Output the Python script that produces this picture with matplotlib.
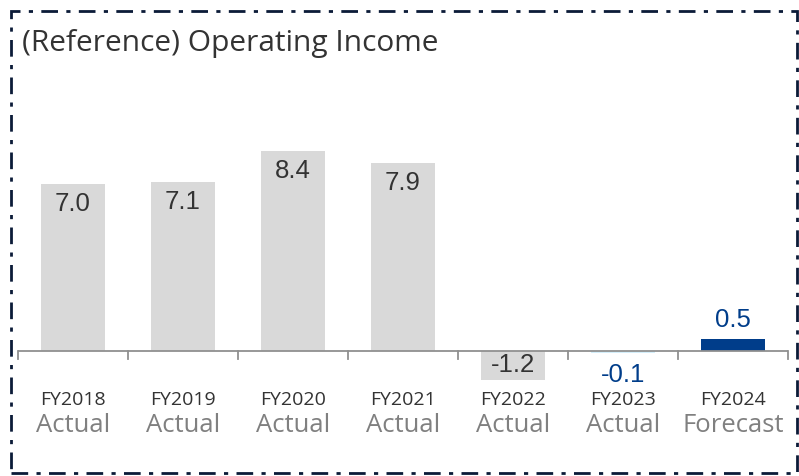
import matplotlib
matplotlib.use('Agg')
import matplotlib.pyplot as plt
from matplotlib.patches import Rectangle
from matplotlib.transforms import blended_transform_factory

# data
years = ['FY2018', 'FY2019', 'FY2020', 'FY2021', 'FY2022', 'FY2023', 'FY2024']
kinds = ['Actual', 'Actual', 'Actual', 'Actual', 'Actual', 'Actual', 'Forecast']
income = [7.0, 7.1, 8.4, 7.9, -1.2, -0.1, 0.5]
labels = ['7.0', '7.1', '8.4', '7.9', '-1.2', '-0.1', '0.5']

gray = '#d9d9d9'
blue = '#003d8a'
light_blue = '#d4eefa'
bar_colors = [gray, gray, gray, gray, gray, light_blue, blue]

fig = plt.figure(figsize=(7.99, 4.76), dpi=100)

# frame around the whole chart (dash-dot)
fig.patches.append(Rectangle((11 / 799, 3 / 476), 786 / 799, 462 / 476,
                             transform=fig.transFigure, fill=False,
                             edgecolor='#0b1b38', linewidth=2,
                             linestyle=(0, (6, 3, 1.5, 3))))

fig.text(22 / 799, 1 - 44 / 476, '(Reference) Operating Income',
         fontsize=21.5, color='#333333', family='Open Sans', va='center')

# axes: baseline at y=351px, 23.86 px per unit
ax = fig.add_axes([18 / 799, 1 - 400 / 476, 770 / 799, 300 / 476])
ax.set_xlim(-0.5, len(years) - 0.5)
ax.set_ylim(-49 / 23.86, 251 / 23.86)
ax.axis('off')

x = range(len(years))
ax.bar(x, income, width=0.575, color=bar_colors, zorder=2)

# baseline and category separators
ax.axhline(0, color='#909090', linewidth=1.3, zorder=3)
for b in range(len(years) + 1):
    ax.plot([b - 0.5, b - 0.5], [0, -8 / 23.86], color='#909090',
            linewidth=1.3, clip_on=False, zorder=3)

# value labels
for i, v in enumerate(income):
    if v >= 1:
        ax.annotate(labels[i], (i, v), xytext=(0, -6), textcoords='offset points',
                    ha='center', va='top', fontsize=18.5, color='#333333',
                    family='Liberation Sans')
    elif v <= -1:
        ax.text(i, v / 2, labels[i], ha='center', va='center', fontsize=18.5,
                color='#333333', family='Liberation Sans')
    elif v < 0:
        ax.annotate(labels[i], (i, v), xytext=(0, -7), textcoords='offset points',
                    ha='center', va='top', fontsize=18.5, color=blue,
                    family='Liberation Sans')
    else:
        ax.annotate(labels[i], (i, v), xytext=(0, 5), textcoords='offset points',
                    ha='center', va='bottom', fontsize=18.5, color=blue,
                    family='Liberation Sans')

# category labels
trans = blended_transform_factory(ax.transData, fig.transFigure)
for i in x:
    ax.text(i, 1 - 400 / 476, years[i], transform=trans, ha='center', va='center',
            fontsize=14, color='#333333', family='Open Sans')
    ax.text(i, 1 - 426 / 476, kinds[i], transform=trans, ha='center', va='center',
            fontsize=18.5, color='#808080', family='Open Sans')

plt.savefig('out.png', dpi=100)
